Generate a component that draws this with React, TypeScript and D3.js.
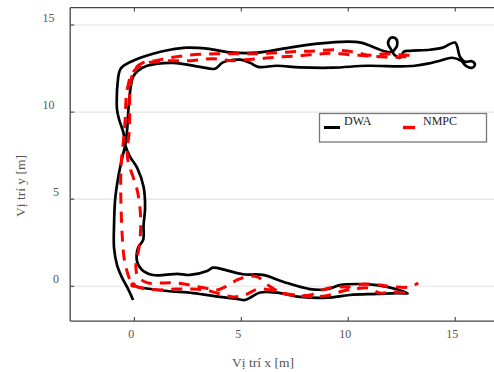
import React from "react";
import * as d3 from "d3";

const xTicks = [0, 5, 10, 15];
const yTicks = [0, 5, 10, 15];
const seriesNames = ["DWA", "NMPC"];
const xTitle = "Vị trí x [m]";
const yTitle = "Vị trí y [m]";

const dwaX = [
  0.13, 0.41, 1.53, 2.74, 4.0, 4.8, 5.17, 5.41, 5.88, 6.67, 7.74, 9.0, 10.07, 11.32, 12.27, 12.78,
  12.27, 11.32, 10.52, 9.61, 9.0, 8.21, 6.95, 6.01, 5.08, 4.24, 3.68, 3.4, 2.6, 1.99, 1.43, 0.87, 0.36,
  0.13, 0.17, 0.41, 0.43, 0.5, 0.43, 0.13, -0.2, -0.43, -0.51, -0.71, -0.81, -0.82, -0.79, -0.64,
  -0.06, 0.87, 1.67, 2.46, 3.4, 4.61, 5.73, 6.95, 8.57, 9.97, 10.58, 11.37, 11.62,
  12.04, 11.86, 11.99, 12.23, 12.28, 12.09, 12.42, 12.6, 12.88,
  13.82, 14.43, 14.99, 15.22, 15.45, 15.78, 15.92, 15.78, 15.5, 15.27, 14.85, 14.28, 13.72, 13.11,
  12.42, 10.87, 9.29, 7.74, 6.67, 5.78, 5.41, 4.94, 4.38, 4.1, 3.77, 3.07, 1.81, 0.59, 0.17, -0.06,
  -0.17, -0.28, -0.32, -0.41, -0.57, -0.76, -0.9, -0.95, -0.95, -0.81, -0.57, -0.29, -0.06,
];
const dwaY = [
  -0.04, -0.1, -0.27, -0.39, -0.61, -0.73, -0.79, -0.66, -0.36, -0.37, -0.61, -0.66, -0.5, -0.44, -0.39, -0.41,
  -0.17, 0.07, 0.13, 0.07, -0.17, -0.16, 0.26, 0.65, 0.69, 0.94, 1.07, 0.88, 0.65, 0.71, 0.65, 0.65, 0.94,
  1.4, 2.2, 2.66, 3.52, 4.5, 5.71, 6.8, 7.43, 8.12, 8.81, 9.56, 10.13, 10.88, 11.57, 12.49,
  12.95, 13.35, 13.58, 13.7, 13.64, 13.41, 13.41, 13.64, 13.93, 14.05, 13.99, 13.64, 13.52,
  13.47, 13.93, 14.27, 14.21, 13.81, 13.41, 13.12, 13.47, 13.52,
  13.58, 13.7, 13.99, 13.18, 12.89, 12.92, 12.72, 12.54, 12.66, 12.95, 13.12, 12.95, 12.78, 12.66,
  12.63, 12.66, 12.55, 12.57, 12.66, 12.6, 12.83, 13.01, 12.95, 12.83, 12.49, 12.6, 12.83, 12.66, 12.37, 12.03,
  11.45, 10.13, 9.27, 8.2, 7.37, 6.22, 4.96, 3.52, 2.2, 1.22, 0.48, -0.16, -0.79,
];

const nmpcX = [
  12.65, 12.09, 11.48, 10.91, 10.31, 9.75, 9.14, 8.45, 7.74, 7.04, 6.34, 5.78, 5.17, 4.61, 4.01, 3.3, 2.6, 1.9, 1.2, 0.59, 0.17, -0.06,
  -0.29, -0.48, -0.57, -0.62, -0.64, -0.62, -0.55, -0.48, -0.43, -0.39, -0.32, -0.2, -0.01, 0.27,
  0.59, 1.2, 1.9, 2.6, 3.21, 3.68, 4.1, 4.56, 5.17, 5.78, 6.34, 6.9, 7.51, 8.21, 8.78, 9.38, 10.07, 10.77, 11.48, 12.18, 12.65, 12.97,
  12.42, 11.71, 11.01, 10.45, 9.84, 9.28, 8.57, 7.97, 7.36, 6.81, 6.2, 5.64, 5.08, 4.47, 3.77, 3.07, 2.37, 1.67, 0.97, 0.41, 0.08,
  -0.11, -0.2, -0.22, -0.22, -0.25, -0.34, -0.29, -0.06, 0.13, 0.27, 0.29, 0.2, 0.08, 0.08,
  0.17, 0.64, 1.2, 1.9, 2.6, 3.3, 3.86, 4.24, 4.8, 5.41, 5.78, 6.24, 6.81, 7.51, 8.21, 8.78, 9.38, 10.07, 10.77, 11.48, 12.18, 12.88, 13.27,
];
const nmpcY = [
  -0.38, -0.33, -0.39, -0.1, -0.16, -0.27, -0.5, -0.61, -0.56, -0.44, -0.21, -0.16, -0.5, -0.61, -0.44, -0.21, -0.16, -0.16, -0.21, -0.16, -0.04, 0.07,
  0.65, 1.63, 2.95, 4.39, 5.82, 6.97, 7.95, 8.7, 9.56, 10.71, 11.39, 11.97, 12.37, 12.66,
  12.83, 12.92, 12.95, 12.95, 13.03, 13.06, 13.01, 12.95, 13.01, 13.06, 13.12, 13.18, 13.21, 13.29, 13.35, 13.38, 13.29, 13.24, 13.18, 13.15, 13.18, 13.24,
  13.29, 13.35, 13.26, 13.41, 13.52, 13.58, 13.52, 13.49, 13.47, 13.41, 13.38, 13.35, 13.35, 13.35, 13.35, 13.32, 13.24, 13.12, 12.95, 12.84, 12.55,
  12.08, 11.4, 10.42, 9.56, 8.7, 7.83, 7.14, 6.28, 5.53, 4.39, 3.24, 2.09, 1.4, 0.94,
  0.53, 0.19, 0.19, 0.19, 0.07, -0.1, -0.21, -0.04, 0.36, 0.59, 0.53, 0.07, -0.33, -0.5, -0.5, -0.21, -0.04, -0.04, 0.13, 0.07, -0.04, -0.04, 0.19,
];

const FONT = "'Liberation Serif', 'Times New Roman', serif";

export default function App() {
  const W = 494;
  const H = 372;
  const x = d3.scaleLinear().domain([-3, 17]).range([70.2, 498]);
  const y = d3.scaleLinear().domain([-2, 16]).range([321.1, 7.6]);
  const [x0, x1] = x.range();
  const [yb, yt] = y.range();

  const line = d3
    .line<[number, number]>()
    .x((d) => x(d[0]))
    .y((d) => y(d[1]))
    .curve(d3.curveCatmullRom.alpha(0.5));

  const dwa: [number, number][] = dwaX.map((v, i) => [v, dwaY[i]]);
  const nmpc: [number, number][] = nmpcX.map((v, i) => [v, nmpcY[i]]);

  const axisColor = "#444";
  const labelColor = "#555";

  return (
    <svg
      width={W}
      height={H}
      style={{ position: "absolute", left: 0, top: 0, background: "#fff" }}
      fontFamily={FONT}
    >
      {yTicks.map((t) => (
        <line key={"g" + t} x1={x0} x2={x1} y1={y(t)} y2={y(t)} stroke="#e3e3e3" strokeWidth={1.2} />
      ))}
      <line x1={x0} x2={x0} y1={yt} y2={yb} stroke={axisColor} strokeWidth={1.3} />
      <line x1={x0} x2={x1} y1={yb} y2={yb} stroke={axisColor} strokeWidth={1.3} />
      <line x1={x0} x2={x1} y1={yt} y2={yt} stroke={axisColor} strokeWidth={1.3} />
      <line x1={x1} x2={x1} y1={yt} y2={yb} stroke={axisColor} strokeWidth={1.3} />
      {xTicks.map((t) => (
        <g key={"xt" + t}>
          <line x1={x(t)} x2={x(t)} y1={yb} y2={yb - 4} stroke={axisColor} strokeWidth={1.1} />
          <line x1={x(t)} x2={x(t)} y1={yt} y2={yt + 4} stroke={axisColor} strokeWidth={1.1} />
          <text x={x(t) - 3} y={338} textAnchor="middle" fontSize={12} fill={labelColor}>
            {t}
          </text>
        </g>
      ))}
      {yTicks.map((t) => (
        <g key={"yt" + t}>
          <line x1={x0} x2={x0 + 4} y1={y(t)} y2={y(t)} stroke={axisColor} strokeWidth={1.1} />
          <line x1={x1} x2={x1 - 4} y1={y(t)} y2={y(t)} stroke={axisColor} strokeWidth={1.1} />
          <text
            x={String(t).length > 1 ? 54.5 : 59}
            y={y(t) - 3}
            textAnchor="end"
            fontSize={12}
            fill={labelColor}
          >
            {t}
          </text>
        </g>
      ))}
      <text x={263} y={367} textAnchor="middle" fontSize={13.5} fill={labelColor}>
        {xTitle}
      </text>
      <text
        transform={`translate(25,186) rotate(-90)`}
        textAnchor="middle"
        fontSize={13.5}
        fill={labelColor}
      >
        {yTitle}
      </text>
      <path d={line(dwa) || ""} fill="none" stroke="#000" strokeWidth={2.7} strokeLinejoin="round" />
      <path
        d={line(nmpc) || ""}
        fill="none"
        stroke="#ff0000"
        strokeWidth={3}
        strokeDasharray="11,8"
      />
      <circle cx={x(nmpcX[21])} cy={y(nmpcY[21])} r={2.8} fill="#ff0000" />
      <rect x={319.5} y={113.5} width={167} height={28.5} fill="#fff" stroke="#777" strokeWidth={1.3} />
      <line x1={324} x2={340} y1={127.5} y2={127.5} stroke="#000" strokeWidth={3} />
      <text x={344} y={125} fontSize={12} fill="#222">
        {seriesNames[0]}
      </text>
      <line x1={403} x2={415} y1={127.5} y2={127.5} stroke="#ff0000" strokeWidth={3.3} />
      <text x={423} y={125} fontSize={12} fill="#222">
        {seriesNames[1]}
      </text>
    </svg>
  );
}
